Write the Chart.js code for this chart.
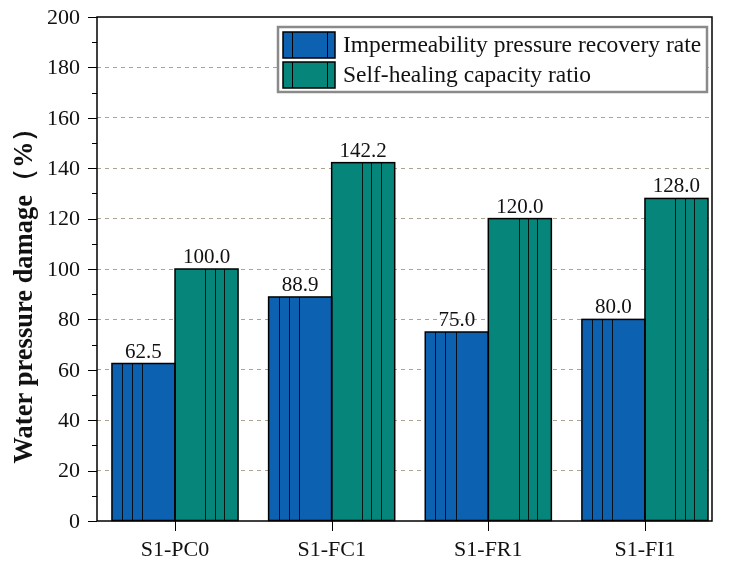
<!DOCTYPE html>
<html>
<head>
<meta charset="utf-8">
<script src="https://cdn.jsdelivr.net/npm/chart.js@4/dist/chart.umd.min.js"></script>
<style>
  html, body { margin: 0; padding: 0; background: #fff; }
  #wrap { width: 737px; height: 569px; }
</style>
</head>
<body>
<div id="wrap"><canvas id="myChart"></canvas></div>
<script>
const categories = ['S1-PC0', 'S1-FC1', 'S1-FR1', 'S1-FI1'];
const recoveryRate = [62.5, 88.9, 75.0, 80.0];
const healingRatio = [100.0, 142.2, 120.0, 128.0];
const seriesNames = ['Impermeability pressure recovery rate', 'Self-healing capacity ratio'];
const yTicks = [0, 20, 40, 60, 80, 100, 120, 140, 160, 180, 200];
const yTitle = 'Water pressure damage（%）';

const BLUE = '#0c61b0';
const GREEN = '#06857a';
const SERIF = '"Liberation Serif", "Times New Roman", serif';

// where the dark stripes sit inside each bar (fraction of bar width)
const stripes = [[0.16, 0.32, 0.48], [0.48, 0.63, 0.78]];

const toPoints = arr => arr.map((v, i) => ({ x: i, y: v }));

const barExtras = {
    id: 'barExtras',
    afterDatasetsDraw(chart) {
        const ctx = chart.ctx;
        ctx.save();
        chart.data.datasets.forEach((ds, di) => {
            const meta = chart.getDatasetMeta(di);
            meta.data.forEach((bar, i) => {
                const p = bar.getProps(['x', 'y', 'base', 'width'], true);
                const left = p.x - p.width / 2;
                ctx.strokeStyle = 'rgba(0,0,0,0.85)';
                ctx.lineWidth = 1;
                stripes[di].forEach(f => {
                    const x = Math.round(left + f * p.width) + 0.5;
                    ctx.beginPath();
                    ctx.moveTo(x, p.y);
                    ctx.lineTo(x, p.base);
                    ctx.stroke();
                });
                ctx.strokeStyle = '#000';
                ctx.lineWidth = 1.5;
                ctx.strokeRect(left, p.y, p.width, p.base - p.y);
                // value label
                ctx.fillStyle = '#111';
                ctx.font = '21px ' + SERIF;
                ctx.textAlign = 'center';
                ctx.textBaseline = 'bottom';
                ctx.fillText(ds.data[i].y.toFixed(1), p.x, p.y - 1);
            });
        });
        ctx.restore();
    },
    afterDraw(chart) {
        const ctx = chart.ctx;
        const a = chart.chartArea;
        const y = chart.scales.y;
        const x = chart.scales.x;
        ctx.save();
        // frame
        ctx.strokeStyle = '#000';
        ctx.lineWidth = 1.5;
        ctx.strokeRect(a.left, a.top, a.right - a.left, a.bottom - a.top);
        // y ticks, major and minor
        ctx.lineWidth = 1;
        for (let v = y.min; v <= y.max; v += 10) {
            const py = Math.round(y.getPixelForValue(v)) + 0.5;
            const len = v % 20 === 0 ? 9 : 5;
            ctx.beginPath();
            ctx.moveTo(a.left - len, py);
            ctx.lineTo(a.left, py);
            ctx.stroke();
        }
        // y tick labels
        ctx.fillStyle = '#111';
        ctx.font = '22px ' + SERIF;
        ctx.textAlign = 'right';
        ctx.textBaseline = 'middle';
        yTicks.forEach(v => {
            ctx.fillText(String(v), a.left - 17, y.getPixelForValue(v) + 1);
        });
        // x ticks at category centres
        categories.forEach((c, i) => {
            const px = Math.round(x.getPixelForValue(i)) + 0.5;
            ctx.beginPath();
            ctx.moveTo(px, a.bottom);
            ctx.lineTo(px, a.bottom + 10);
            ctx.stroke();
        });
        // y axis title
        ctx.save();
        ctx.translate(25, 289);
        ctx.rotate(-Math.PI / 2);
        ctx.fillStyle = '#111';
        ctx.font = 'bold 26.5px ' + SERIF;
        ctx.textAlign = 'center';
        ctx.textBaseline = 'middle';
        ctx.fillText(yTitle, 0, 0);
        ctx.restore();
        // legend
        const lx = 278, ly = 27, lw = 429, lh = 65;
        ctx.fillStyle = '#fff';
        ctx.fillRect(lx, ly, lw, lh);
        ctx.strokeStyle = '#8a8a8a';
        ctx.lineWidth = 2.5;
        ctx.strokeRect(lx, ly, lw, lh);
        chart.data.datasets.forEach((ds, di) => {
            const sx = 283, sy = 32 + di * 30, sw = 52, sh = 26;
            ctx.fillStyle = ds.backgroundColor;
            ctx.fillRect(sx, sy, sw, sh);
            ctx.strokeStyle = '#000';
            ctx.lineWidth = 1;
            [0.17, 0.84].forEach(f => {
                const xx = Math.round(sx + f * sw) + 0.5;
                ctx.beginPath();
                ctx.moveTo(xx, sy);
                ctx.lineTo(xx, sy + sh);
                ctx.stroke();
            });
            ctx.lineWidth = 1.5;
            ctx.strokeRect(sx, sy, sw, sh);
            ctx.fillStyle = '#111';
            ctx.font = '23.5px ' + SERIF;
            ctx.textAlign = 'left';
            ctx.textBaseline = 'middle';
            ctx.fillText(ds.label, 343, sy + sh / 2 + 1);
        });
        ctx.restore();
    }
};

new Chart(document.getElementById('myChart'), {
    type: 'bar',
    data: {
        datasets: [
            { label: seriesNames[0], data: toPoints(recoveryRate), backgroundColor: BLUE, borderWidth: 0 },
            { label: seriesNames[1], data: toPoints(healingRatio), backgroundColor: GREEN, borderWidth: 0 }
        ]
    },
    options: {
        responsive: true,
        maintainAspectRatio: false,
        animation: false,
        layout: { padding: { top: 17, right: 25, left: 0, bottom: 0 } },
        datasets: { bar: { barPercentage: 1, categoryPercentage: 0.805 } },
        plugins: {
            legend: { display: false },
            tooltip: { enabled: false }
        },
        scales: {
            x: {
                type: 'linear',
                min: -0.498,
                max: 3.428,
                offset: false,
                afterBuildTicks(s) { s.ticks = categories.map((c, i) => ({ value: i })); },
                grid: { display: false, drawTicks: false },
                border: { display: false },
                ticks: {
                    color: '#111',
                    font: { family: SERIF, size: 22 },
                    padding: 16,
                    callback: v => categories[v]
                },
                afterFit(s) { s.height = 48; }
            },
            y: {
                min: 0,
                max: 200,
                afterBuildTicks(s) { s.ticks = yTicks.map(v => ({ value: v })); },
                grid: {
                    drawTicks: false,
                    lineWidth: 1,
                    color: c => (c.tick && c.tick.value > 0 && c.tick.value < 200) ? '#ada393' : 'rgba(0,0,0,0)'
                },
                border: { display: false, dash: [4, 4] },
                ticks: { display: false, padding: 0 },
                afterFit(s) { s.width = 97; }
            }
        }
    },
    plugins: [barExtras]
});
</script>
</body>
</html>
